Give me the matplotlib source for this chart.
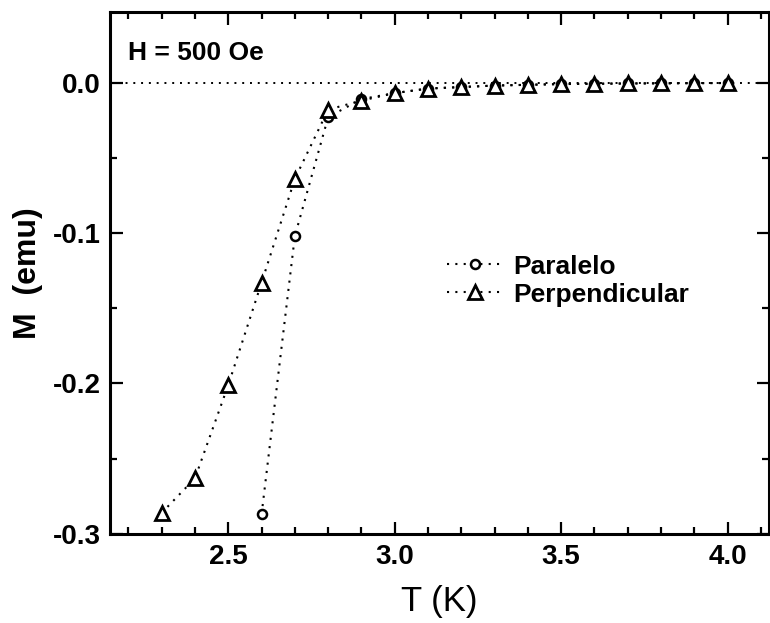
import numpy as np
import matplotlib
matplotlib.use('Agg')
import matplotlib.pyplot as plt
from matplotlib.ticker import MultipleLocator

plt.rcParams['font.family'] = ['Liberation Sans', 'DejaVu Sans']

# Perpendicular (triangulos)
t_perp = [2.3, 2.4, 2.5, 2.6, 2.7, 2.8, 2.9, 3.0, 3.1, 3.2, 3.3, 3.4, 3.5, 3.6, 3.7, 3.8, 3.9, 4.0]
m_perp = [-0.286, -0.263, -0.201, -0.133, -0.064, -0.018, -0.012, -0.007, -0.004,
          -0.003, -0.002, -0.0015, -0.001, -0.0008, -0.0006, -0.0005, -0.0004, -0.0003]

# Paralelo (circulos)
t_par = [2.6, 2.7, 2.8, 2.9, 3.0, 3.1, 3.2, 3.3, 3.4, 3.5, 3.6, 3.7, 3.8, 3.9, 4.0]
m_par = [-0.287, -0.102, -0.023, -0.011, -0.007, -0.004, -0.003, -0.002, -0.0015,
         -0.001, -0.0008, -0.0006, -0.0005, -0.0004, -0.0003]

dots = (0, (1, 3))

fig = plt.figure(figsize=(7.7, 6.23), dpi=100)
ax = fig.add_axes([0.143, 0.143, 0.856, 0.838])

# linea de referencia en cero
ax.axhline(0.0, color='black', linestyle=dots, linewidth=1.4)

ax.plot(t_par, m_par, linestyle=dots, color='black', linewidth=1.5,
        marker='o', markersize=6.5, markerfacecolor='white', markeredgewidth=1.8,
        label='Paralelo')
ax.plot(t_perp, m_perp, linestyle=dots, color='black', linewidth=1.5,
        marker='^', markersize=9.5, markerfacecolor='white', markeredgewidth=2.0,
        label='Perpendicular')

ax.set_xlim(2.145, 4.125)
ax.set_ylim(-0.3, 0.047)

ax.xaxis.set_major_locator(MultipleLocator(0.5))
ax.xaxis.set_minor_locator(MultipleLocator(0.1))
ax.yaxis.set_major_locator(MultipleLocator(0.1))
ax.yaxis.set_minor_locator(MultipleLocator(0.05))
ax.xaxis.set_major_formatter(plt.FormatStrFormatter('%.1f'))
ax.yaxis.set_major_formatter(plt.FormatStrFormatter('%.1f'))

ax.tick_params(which='both', direction='in', top=True, right=True, width=1.6)
ax.tick_params(which='major', length=9, labelsize=20, pad=7)
ax.tick_params(which='minor', length=5)
for lbl in ax.get_xticklabels() + ax.get_yticklabels():
    lbl.set_fontweight('bold')
for sp in ax.spines.values():
    sp.set_linewidth(2.2)

ax.set_xlabel('T (K)', fontsize=25)
ax.xaxis.set_label_coords(0.5, -0.098)
ax.set_ylabel('M  (emu)', fontsize=23, fontweight='bold')
ax.yaxis.set_label_coords(-0.102, 0.5)

ax.text(0.027, 0.921, 'H = 500 Oe', transform=ax.transAxes, fontsize=19,
        fontweight='bold', va='center', ha='left')

leg = ax.legend(loc='center left', bbox_to_anchor=(0.511, 0.485), frameon=False,
                prop={'size': 19, 'weight': 'bold'}, handlelength=2.15,
                handletextpad=0.35, labelspacing=0.15, borderpad=0,
                borderaxespad=0)

fig.savefig('out.png', dpi=100)
